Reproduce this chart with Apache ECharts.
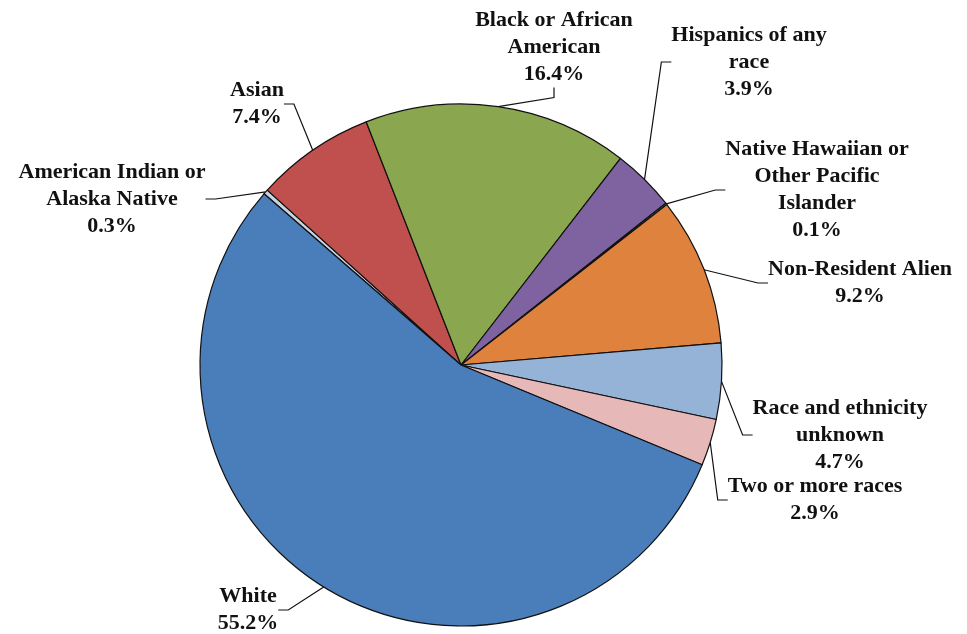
<!DOCTYPE html>
<html><head><meta charset="utf-8">
<script src="https://cdn.jsdelivr.net/npm/echarts@6/dist/echarts.min.js"></script>
<style>html,body{margin:0;padding:0;background:#fff}#c{width:967px;height:634px}</style>
</head><body><div id="c"></div>
<script>
const categories = ["American Indian or\nAlaska Native", "Asian", "Black or African\nAmerican", "Hispanics of any\nrace", "Native Hawaiian or\nOther Pacific\nIslander", "Non-Resident Alien", "Race and ethnicity\nunknown", "Two or more races", "White"];
const values = [0.3, 7.4, 16.4, 3.9, 0.1, 9.2, 4.7, 2.9, 55.2];
const colors = ["#C9D3DF", "#C0504D", "#8AA64F", "#7F63A1", "#4BACC6", "#DF823E", "#95B3D7", "#E6B9B8", "#4A7EBB"];
// label centre positions (layout only)
const labelPos = [[112,199],[257,104],[554,47],[749,62],[817,190],[860,283],[840,435],[815,500],[248,610]];

const chart = echarts.init(document.getElementById('c'));
chart.setOption({
  animation: false,
  series: [{
    type: 'pie',
    center: [461, 365],
    radius: 261,
    startAngle: 139,
    clockwise: true,
    avoidLabelOverlap: false,
    data: categories.map((n, i) => ({name: n, value: values[i], itemStyle: {color: colors[i]}})),
    itemStyle: {borderColor: '#111', borderWidth: 1.2},
    label: {
      show: true,
      formatter: p => p.name + '\n' + p.value.toFixed(1) + '%',
      fontFamily: 'Liberation Serif',
      fontWeight: 'bold',
      fontSize: 22,
      lineHeight: 27,
      color: '#111',
      align: 'center'
    },
    labelLine: {show: true, length: 15, length2: 10, lineStyle: {color: '#111', width: 1.2}},
    labelLayout: function (params) {
      const p = labelPos[params.dataIndex];
      return {x: p[0], y: p[1], align: 'center', verticalAlign: 'middle'};
    }
  }]
});
</script>
</body></html>
